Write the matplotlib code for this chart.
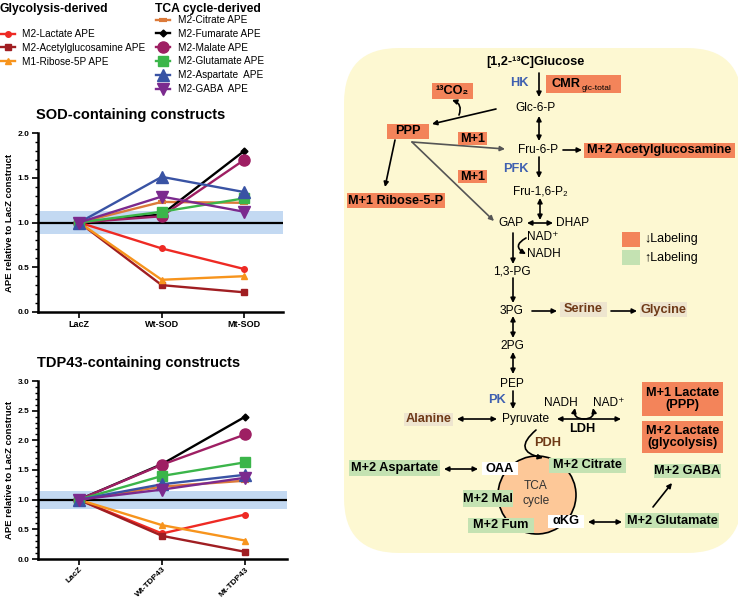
import matplotlib
matplotlib.use("Agg")
import matplotlib.pyplot as plt
from matplotlib.patches import FancyBboxPatch, Circle, Rectangle
from matplotlib.ticker import MultipleLocator

plt.rcParams["font.family"] = ["Liberation Sans", "DejaVu Sans"]

# data
groups_sod = ["LacZ", "Wt-SOD", "Mt-SOD"]
groups_tdp = ["LacZ", "Wt-TDP43", "Mt-TDP43"]

names_glyc = ["M2-Lactate APE", "M2-Acetylglucosamine APE", "M1-Ribose-5P APE"]
names_tca = ["M2-Citrate APE", "M2-Fumarate APE", "M2-Malate APE",
             "M2-Glutamate APE", "M2-Aspartate  APE", "M2-GABA  APE"]

sod_lactate = [1.0, 0.71, 0.48]
sod_acetylglc = [1.0, 0.30, 0.22]
sod_ribose = [1.0, 0.36, 0.40]
sod_citrate = [1.0, 1.23, 1.22]
sod_fumarate = [1.0, 1.09, 1.80]
sod_malate = [1.0, 1.07, 1.70]
sod_glutamate = [1.0, 1.12, 1.27]
sod_aspartate = [1.0, 1.51, 1.34]
sod_gaba = [1.0, 1.29, 1.12]

tdp_lactate = [1.0, 0.43, 0.75]
tdp_acetylglc = [1.0, 0.39, 0.12]
tdp_ribose = [1.0, 0.57, 0.31]
tdp_citrate = [1.0, 1.22, 1.32]
tdp_fumarate = [1.0, 1.60, 2.40]
tdp_malate = [1.0, 1.59, 2.10]
tdp_glutamate = [1.0, 1.40, 1.63]
tdp_aspartate = [1.0, 1.26, 1.42]
tdp_gaba = [1.0, 1.17, 1.37]

band_sod = [0.87, 1.13]
band_tdp = [0.84, 1.14]

# colours / markers per series (same order as names)
styles = [
    dict(color="#ee2a24", marker="o", ms=4),
    dict(color="#a01e22", marker="s", ms=4),
    dict(color="#f7941d", marker="^", ms=4),
    dict(color="#dc7a3a", marker="_", ms=6, mew=3),
    dict(color="#000000", marker="D", ms=3.5),
    dict(color="#9e1f63", marker="o", ms=8),
    dict(color="#3bb54a", marker="s", ms=7),
    dict(color="#3953a4", marker="^", ms=8),
    dict(color="#7b2a8e", marker="v", ms=8),
]

ORANGE = "#f3845a"
GREEN = "#c4e2b2"
YELLOW = "#fdf8d2"
BEIGE = "#eee5cf"
BLUE = "#3f60b0"
BROWN = "#6f3a17"

NORM = 8.6   # plain text in the pathway
BOLD = 9.2   # boxed labels

fig = plt.figure(figsize=(7.38, 6.0), dpi=100)

# full-figure axes for the pathway drawing (pixel coords)
dg = fig.add_axes([0, 0, 1, 1])
dg.set_xlim(0, 738)
dg.set_ylim(600, 0)
dg.axis("off")


def plot_panel(ax, groups, series, band, ymax, title, title_x, rotate):
    x = list(range(len(groups)))
    ax.axhspan(band[0], band[1], xmin=0, xmax=1, color="#c3d9f2", zorder=1, lw=0)
    ax.axhline(1.0, color="black", lw=1.6, zorder=2)
    lines = []
    for vals, st in zip(series, styles):
        (ln,) = ax.plot(x, vals, lw=1.7, zorder=3, **st)
        lines.append(ln)
    ax.set_ylim(0, ymax)
    ax.set_xticks(x)
    if rotate:
        ax.set_xticklabels(groups, rotation=45, ha="right", rotation_mode="anchor",
                           fontsize=6, fontweight="bold")
        ax.tick_params(axis="x", pad=1)
    else:
        ax.set_xticklabels(groups, fontsize=6.5, fontweight="bold")
        ax.tick_params(axis="x", pad=2)
    ax.yaxis.set_major_locator(MultipleLocator(0.5))
    ax.yaxis.set_minor_locator(MultipleLocator(0.1))
    ax.set_yticklabels([f"{v:.1f}" for v in ax.get_yticks()], fontsize=6,
                       fontweight="bold")
    ax.tick_params(axis="both", which="major", length=4, width=1.2)
    ax.tick_params(axis="y", which="major", pad=2)
    ax.tick_params(axis="y", which="minor", length=2, width=1)
    for s in ["top", "right"]:
        ax.spines[s].set_visible(False)
    for s in ["left", "bottom"]:
        ax.spines[s].set_linewidth(1.8)
    ax.set_facecolor("none")
    ax.set_ylabel("APE relative to LacZ construct", fontsize=6.8, fontweight="bold",
                  labelpad=3)
    ax.set_title(title, fontsize=10.5, fontweight="bold", pad=10, x=title_x)
    return lines


ax1 = fig.add_axes([38 / 738, (600 - 312) / 600, 245 / 738, 179 / 600])
ax1.set_xlim(-0.5, 2.47)
lines = plot_panel(ax1, groups_sod,
                   [sod_lactate, sod_acetylglc, sod_ribose, sod_citrate, sod_fumarate,
                    sod_malate, sod_glutamate, sod_aspartate, sod_gaba],
                   band_sod, 2.0, "SOD-containing constructs", 0.38, False)

ax2 = fig.add_axes([38 / 738, (600 - 559) / 600, 249 / 738, 178 / 600])
ax2.set_xlim(-0.49, 2.5)
plot_panel(ax2, groups_tdp,
           [tdp_lactate, tdp_acetylglc, tdp_ribose, tdp_citrate, tdp_fumarate,
            tdp_malate, tdp_glutamate, tdp_aspartate, tdp_gaba],
           band_tdp, 3.0, "TDP43-containing constructs", 0.405, True)

# legends
dg.text(0, 9, "Glycolysis-derived", fontsize=8.7, fontweight="bold", va="center")
dg.text(155, 9, "TCA cycle-derived", fontsize=8.7, fontweight="bold", va="center")
fig.legend(lines[:3], names_glyc, loc="upper left",
           bbox_to_anchor=(1 / 738, 1 - 29 / 600), frameon=False, fontsize=7.2,
           handlelength=1.4, handletextpad=0.75, labelspacing=0.38,
           borderpad=0, borderaxespad=0)
fig.legend(lines[3:], names_tca, loc="upper left",
           bbox_to_anchor=(156 / 738, 1 - 15 / 600), frameon=False, fontsize=7.2,
           handlelength=1.4, handletextpad=0.75, labelspacing=0.38,
           borderpad=0, borderaxespad=0)

# pathway panel
dg.add_patch(FancyBboxPatch((344, 48), 398, 505,
                            boxstyle="round,pad=0,rounding_size=55",
                            fc=YELLOW, ec="none", zorder=0))


def box(x0, y0, x1, y1, fc):
    dg.add_patch(Rectangle((x0, y0), x1 - x0, y1 - y0, fc=fc, ec="none", zorder=3))


def txt(x, y, s, size=NORM, weight="normal", color="black", ha="center", z=4):
    dg.text(x, y, s, fontsize=size, fontweight=weight, color=color, ha=ha,
            va="center", zorder=z, linespacing=1.0)


def arr(x0, y0, x1, y1, style="-|>", color="black", rad=0.0, lw=1.2):
    dg.annotate("", xy=(x1, y1), xytext=(x0, y0), zorder=2,
                arrowprops=dict(arrowstyle=style, color=color, lw=lw, shrinkA=0,
                                shrinkB=0, mutation_scale=7,
                                connectionstyle=f"arc3,rad={rad}"))


# TCA circle
dg.add_patch(Circle((537, 495), 39, fc="#fdc898", ec="black", lw=1.2, zorder=1))
txt(536, 486, "TCA", NORM, color="#333333")
txt(536, 501, "cycle", NORM, color="#333333")

# orange boxes
boxes_orange = [
    ((546, 75, 621, 93), None),
    ((432, 83, 473, 99), "¹³CO₂"),
    ((387, 124, 429, 139), "PPP"),
    ((458, 132, 487, 145), "M+1"),
    ((458, 170, 487, 183), "M+1"),
    ((347, 193, 445, 208), "M+1 Ribose-5-P"),
    ((584, 143, 735, 158), "M+2 Acetylglucosamine"),
    ((642, 382, 723, 416), "M+1 Lactate\n(PPP)"),
    ((642, 421, 723, 453), "M+2 Lactate\n(glycolysis)"),
]
for (x0, y0, x1, y1), s in boxes_orange:
    box(x0, y0, x1, y1, ORANGE)
    if s:
        txt((x0 + x1) / 2, (y0 + y1) / 2, s, BOLD, "bold")
txt(552, 84, "CMR", BOLD, "bold", ha="left")
txt(582, 88, "glc-total", 6, ha="left")

boxes_green = [
    ((549, 458, 626, 473), "M+2 Citrate"),
    ((349, 460, 440, 476), "M+2 Aspartate"),
    ((463, 490, 513, 507), "M+2 Mal"),
    ((468, 518, 534, 533), "M+2 Fum"),
    ((625, 513, 719, 528), "M+2 Glutamate"),
    ((654, 464, 721, 478), "M+2 GABA"),
]
for (x0, y0, x1, y1), s in boxes_green:
    box(x0, y0, x1, y1, GREEN)
    txt((x0 + x1) / 2, (y0 + y1) / 2, s, BOLD, "bold")

for (x0, y0, x1, y1), s in [((482, 462, 518, 475), "OAA"), ((548, 515, 584, 528), "αKG")]:
    box(x0, y0, x1, y1, "white")
    txt((x0 + x1) / 2, (y0 + y1) / 2, s, BOLD, "bold")

for (x0, y0, x1, y1), s in [((560, 302, 607, 317), "Serine"),
                            ((640, 302, 687, 317), "Glycine"),
                            ((404, 413, 453, 426), "Alanine")]:
    box(x0, y0, x1, y1, BEIGE)
    txt((x0 + x1) / 2, (y0 + y1) / 2, s, BOLD, "bold", BROWN)

# key
box(622, 232, 640, 247, ORANGE)
box(622, 250, 640, 265, GREEN)
txt(644, 239, "↓Labeling", 9, ha="left")
txt(644, 258, "↑Labeling", 9, ha="left")

# metabolites
txt(535, 62, "[1,2-¹³C]Glucose", BOLD, "bold")
txt(535, 108, "Glc-6-P")
txt(538, 150, "Fru-6-P")
txt(540, 191, "Fru-1,6-P₂")
txt(511, 223, "GAP")
txt(573, 223, "DHAP")
txt(527, 237, "NAD⁺", ha="left")
txt(527, 254, "NADH", ha="left")
txt(512, 271, "1,3-PG")
txt(512, 311, "3PG")
txt(512, 346, "2PG")
txt(512, 384, "PEP")
txt(526, 419, "Pyruvate")
txt(561, 403, "NADH")
txt(609, 403, "NAD⁺")

# enzymes
txt(519, 83, "HK", BOLD, "bold", BLUE)
txt(516, 169, "PFK", BOLD, "bold", BLUE)
txt(497, 400, "PK", BOLD, "bold", BLUE)
txt(582, 429, "LDH", BOLD, "bold")
txt(548, 443, "PDH", BOLD, "bold", BROWN)

# arrows
arr(539, 73, 539, 97)
arr(539, 116, 539, 141, "<|-|>")
arr(563, 150, 582, 150)
arr(539, 157, 539, 178)
arr(540, 198, 540, 220, "<|-|>")
arr(527, 223, 553, 223, "<|-|>")
arr(496, 109, 432, 124)
arr(459, 115, 452, 100, rad=0.5)
arr(412, 142, 505, 149, color="#555555")
arr(412, 142, 494, 221, color="#555555")
arr(395, 140, 385, 187)
arr(513, 233, 513, 264)
arr(526, 238, 526, 254, rad=0.9)
arr(513, 278, 513, 303)
arr(532, 311, 557, 311)
arr(611, 311, 637, 311)
arr(513, 316, 513, 338, "<|-|>")
arr(513, 352, 513, 374, "<|-|>")
arr(513, 391, 513, 409)
arr(457, 419, 497, 419, "<|-|>")
arr(557, 419, 621, 419, "<|-|>")
arr(584, 419, 575, 408, rad=-0.6)
arr(584, 419, 593, 408, rad=0.6)
arr(536, 430, 543, 458, rad=1.0)
arr(444, 469, 478, 469, "<|-|>")
arr(588, 522, 622, 522, "<|-|>")
arr(653, 507, 672, 483)

fig.savefig("out.png", dpi=100)
